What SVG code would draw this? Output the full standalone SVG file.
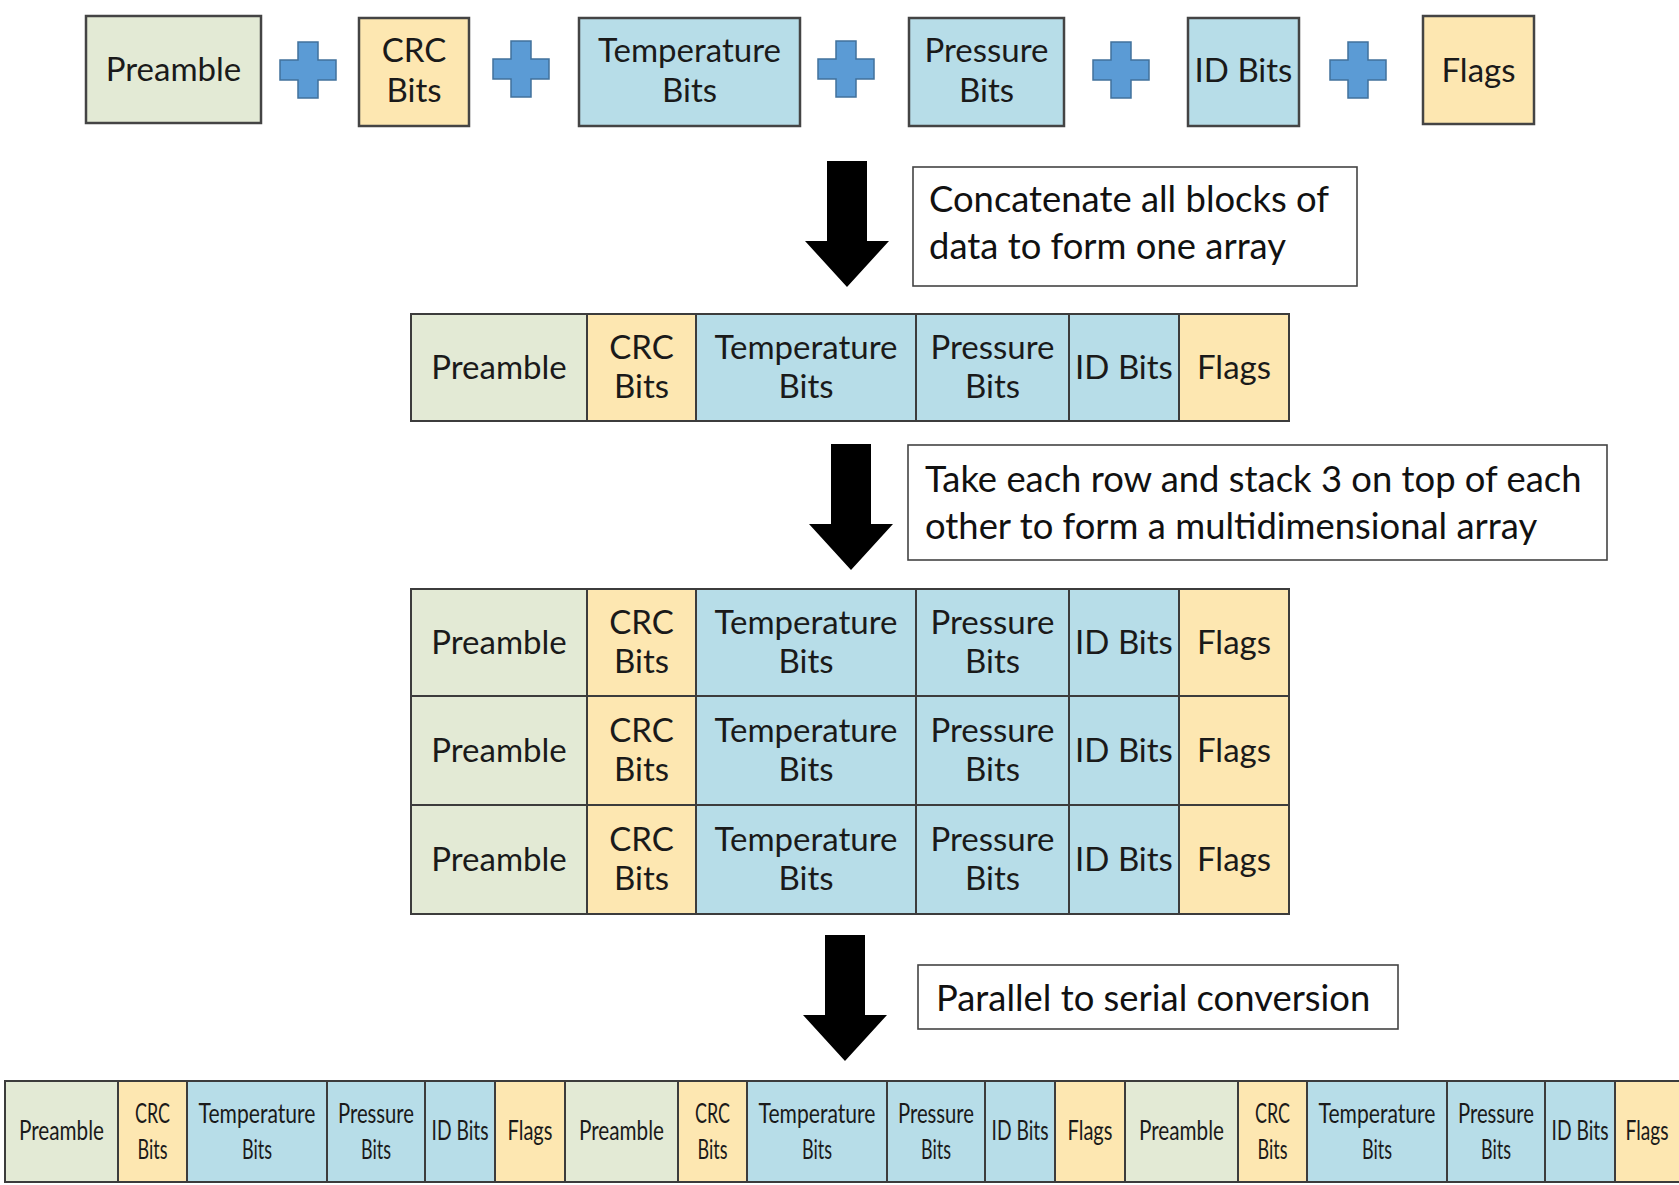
<svg xmlns="http://www.w3.org/2000/svg" width="1679" height="1185" viewBox="0 0 1679 1185">
<defs>
<style>
.pre{fill:#E3EAD5}
.yel{fill:#FDE7B1}
.blu{fill:#B7DDE8}
.cell{stroke:#3C3C3C;stroke-width:2}
.top{stroke:#444;stroke-width:2.5}
text{font-family:Lato,"Liberation Sans",sans-serif;fill:#1a1a1a}
.t{font-size:33px;text-anchor:middle}
.s{font-size:26px;text-anchor:middle}
.note{font-size:36.4px;fill:#111}
.nbox{fill:#fff;stroke:#444;stroke-width:1.6}
.plus{fill:#5B9BD5;stroke:#41719C;stroke-width:1.5}
</style>
<path id="arr" d="M-20,0 H20 V80 H42 L0,126 L-42,80 H-20 Z" fill="#000"/>
<path id="plus" d="M-10,-28 H10 V-10 H28 V10 H10 V28 H-10 V10 H-28 V-10 H-10 Z"/>
</defs>
<rect width="1679" height="1185" fill="#fff"/>

<!-- Top row -->
<g id="top-preamble"><rect class="pre top" x="86" y="16" width="175" height="107"/><text class="t" x="173.5" y="81">Preamble</text></g>
<g id="top-crc"><rect class="yel top" x="359" y="18" width="110" height="108"/><text class="t" x="414" y="62">CRC</text><text class="t" x="414" y="102">Bits</text></g>
<g id="top-temp"><rect class="blu top" x="579" y="18" width="221" height="108"/><text class="t" x="689.5" y="62">Temperature</text><text class="t" x="689.5" y="102">Bits</text></g>
<g id="top-press"><rect class="blu top" x="909" y="18" width="155" height="108"/><text class="t" x="986.5" y="62">Pressure</text><text class="t" x="986.5" y="102">Bits</text></g>
<g id="top-id"><rect class="blu top" x="1188" y="18" width="111" height="108"/><text class="t" x="1243.5" y="81.5">ID Bits</text></g>
<g id="top-flags"><rect class="yel top" x="1423" y="16" width="111" height="108"/><text class="t" x="1478.5" y="81.5">Flags</text></g>
<g id="plus-signs">
<use href="#plus" class="plus" x="308" y="70"/>
<use href="#plus" class="plus" x="521" y="69"/>
<use href="#plus" class="plus" x="846" y="69"/>
<use href="#plus" class="plus" x="1121" y="70"/>
<use href="#plus" class="plus" x="1358" y="70"/>
</g>

<!-- Connectors -->
<g id="connectors">
<use href="#arr" x="847" y="161"/>
<use href="#arr" x="851" y="444"/>
<use href="#arr" x="845" y="935"/>
</g>

<!-- Notes -->
<g id="note-1"><rect class="nbox" x="913" y="167" width="444" height="119"/><text class="note" x="929" y="212">Concatenate all blocks of</text><text class="note" x="929" y="259">data to form one array</text></g>
<g id="note-2"><rect class="nbox" x="908" y="445" width="699" height="115"/><text class="note" x="925" y="492">Take each row and stack 3 on top of each</text><text class="note" x="925" y="539">other to form a multidimensional array</text></g>
<g id="note-3"><rect class="nbox" x="918" y="965" width="480" height="64"/><text class="note" x="936" y="1011">Parallel to serial conversion</text></g>

<!-- Concatenated array -->
<g id="array-1">
<rect class="pre cell" x="411" y="314" width="176" height="107"/><text class="t" x="499" y="379">Preamble</text>
<rect class="yel cell" x="587" y="314" width="109" height="107"/><text class="t" x="641.5" y="359">CRC</text><text class="t" x="641.5" y="398">Bits</text>
<rect class="blu cell" x="696" y="314" width="220" height="107"/><text class="t" x="806" y="359">Temperature</text><text class="t" x="806" y="398">Bits</text>
<rect class="blu cell" x="916" y="314" width="153" height="107"/><text class="t" x="992.5" y="359">Pressure</text><text class="t" x="992.5" y="398">Bits</text>
<rect class="blu cell" x="1069" y="314" width="110" height="107"/><text class="t" x="1124" y="379">ID Bits</text>
<rect class="yel cell" x="1179" y="314" width="110" height="107"/><text class="t" x="1234" y="379">Flags</text>
</g>

<!-- Multidimensional array -->
<g id="grid-row-1">
<rect class="pre cell" x="411" y="589" width="176" height="107"/><text class="t" x="499" y="654">Preamble</text>
<rect class="yel cell" x="587" y="589" width="109" height="107"/><text class="t" x="641.5" y="634">CRC</text><text class="t" x="641.5" y="673">Bits</text>
<rect class="blu cell" x="696" y="589" width="220" height="107"/><text class="t" x="806" y="634">Temperature</text><text class="t" x="806" y="673">Bits</text>
<rect class="blu cell" x="916" y="589" width="153" height="107"/><text class="t" x="992.5" y="634">Pressure</text><text class="t" x="992.5" y="673">Bits</text>
<rect class="blu cell" x="1069" y="589" width="110" height="107"/><text class="t" x="1124" y="654">ID Bits</text>
<rect class="yel cell" x="1179" y="589" width="110" height="107"/><text class="t" x="1234" y="654">Flags</text>
</g>
<g id="grid-row-2">
<rect class="pre cell" x="411" y="696" width="176" height="109"/><text class="t" x="499" y="762">Preamble</text>
<rect class="yel cell" x="587" y="696" width="109" height="109"/><text class="t" x="641.5" y="742">CRC</text><text class="t" x="641.5" y="781">Bits</text>
<rect class="blu cell" x="696" y="696" width="220" height="109"/><text class="t" x="806" y="742">Temperature</text><text class="t" x="806" y="781">Bits</text>
<rect class="blu cell" x="916" y="696" width="153" height="109"/><text class="t" x="992.5" y="742">Pressure</text><text class="t" x="992.5" y="781">Bits</text>
<rect class="blu cell" x="1069" y="696" width="110" height="109"/><text class="t" x="1124" y="762">ID Bits</text>
<rect class="yel cell" x="1179" y="696" width="110" height="109"/><text class="t" x="1234" y="762">Flags</text>
</g>
<g id="grid-row-3">
<rect class="pre cell" x="411" y="805" width="176" height="109"/><text class="t" x="499" y="871">Preamble</text>
<rect class="yel cell" x="587" y="805" width="109" height="109"/><text class="t" x="641.5" y="851">CRC</text><text class="t" x="641.5" y="890">Bits</text>
<rect class="blu cell" x="696" y="805" width="220" height="109"/><text class="t" x="806" y="851">Temperature</text><text class="t" x="806" y="890">Bits</text>
<rect class="blu cell" x="916" y="805" width="153" height="109"/><text class="t" x="992.5" y="851">Pressure</text><text class="t" x="992.5" y="890">Bits</text>
<rect class="blu cell" x="1069" y="805" width="110" height="109"/><text class="t" x="1124" y="871">ID Bits</text>
<rect class="yel cell" x="1179" y="805" width="110" height="109"/><text class="t" x="1234" y="871">Flags</text>
</g>

<!-- Serial stream -->
<g id="serial-1">
<rect class="pre cell" x="5" y="1081" width="113" height="101"/><text class="s" x="61.5" y="1140" textLength="85" lengthAdjust="spacingAndGlyphs">Preamble</text>
<rect class="yel cell" x="118" y="1081" width="69" height="101"/><text class="s" x="152.5" y="1123" textLength="35" lengthAdjust="spacingAndGlyphs">CRC</text><text class="s" x="152.5" y="1159" textLength="30" lengthAdjust="spacingAndGlyphs">Bits</text>
<rect class="blu cell" x="187" y="1081" width="140" height="101"/><text class="s" x="257" y="1123" textLength="117" lengthAdjust="spacingAndGlyphs">Temperature</text><text class="s" x="257" y="1159" textLength="30" lengthAdjust="spacingAndGlyphs">Bits</text>
<rect class="blu cell" x="327" y="1081" width="98" height="101"/><text class="s" x="376" y="1123" textLength="76" lengthAdjust="spacingAndGlyphs">Pressure</text><text class="s" x="376" y="1159" textLength="30" lengthAdjust="spacingAndGlyphs">Bits</text>
<rect class="blu cell" x="425" y="1081" width="70" height="101"/><text class="s" x="460" y="1140" textLength="57" lengthAdjust="spacingAndGlyphs">ID Bits</text>
<rect class="yel cell" x="495" y="1081" width="70" height="101"/><text class="s" x="530" y="1140" textLength="45" lengthAdjust="spacingAndGlyphs">Flags</text>
</g>
<g id="serial-2">
<rect class="pre cell" x="565" y="1081" width="113" height="101"/><text class="s" x="621.5" y="1140" textLength="85" lengthAdjust="spacingAndGlyphs">Preamble</text>
<rect class="yel cell" x="678" y="1081" width="69" height="101"/><text class="s" x="712.5" y="1123" textLength="35" lengthAdjust="spacingAndGlyphs">CRC</text><text class="s" x="712.5" y="1159" textLength="30" lengthAdjust="spacingAndGlyphs">Bits</text>
<rect class="blu cell" x="747" y="1081" width="140" height="101"/><text class="s" x="817" y="1123" textLength="117" lengthAdjust="spacingAndGlyphs">Temperature</text><text class="s" x="817" y="1159" textLength="30" lengthAdjust="spacingAndGlyphs">Bits</text>
<rect class="blu cell" x="887" y="1081" width="98" height="101"/><text class="s" x="936" y="1123" textLength="76" lengthAdjust="spacingAndGlyphs">Pressure</text><text class="s" x="936" y="1159" textLength="30" lengthAdjust="spacingAndGlyphs">Bits</text>
<rect class="blu cell" x="985" y="1081" width="70" height="101"/><text class="s" x="1020" y="1140" textLength="57" lengthAdjust="spacingAndGlyphs">ID Bits</text>
<rect class="yel cell" x="1055" y="1081" width="70" height="101"/><text class="s" x="1090" y="1140" textLength="45" lengthAdjust="spacingAndGlyphs">Flags</text>
</g>
<g id="serial-3">
<rect class="pre cell" x="1125" y="1081" width="113" height="101"/><text class="s" x="1181.5" y="1140" textLength="85" lengthAdjust="spacingAndGlyphs">Preamble</text>
<rect class="yel cell" x="1238" y="1081" width="69" height="101"/><text class="s" x="1272.5" y="1123" textLength="35" lengthAdjust="spacingAndGlyphs">CRC</text><text class="s" x="1272.5" y="1159" textLength="30" lengthAdjust="spacingAndGlyphs">Bits</text>
<rect class="blu cell" x="1307" y="1081" width="140" height="101"/><text class="s" x="1377" y="1123" textLength="117" lengthAdjust="spacingAndGlyphs">Temperature</text><text class="s" x="1377" y="1159" textLength="30" lengthAdjust="spacingAndGlyphs">Bits</text>
<rect class="blu cell" x="1447" y="1081" width="98" height="101"/><text class="s" x="1496" y="1123" textLength="76" lengthAdjust="spacingAndGlyphs">Pressure</text><text class="s" x="1496" y="1159" textLength="30" lengthAdjust="spacingAndGlyphs">Bits</text>
<rect class="blu cell" x="1545" y="1081" width="70" height="101"/><text class="s" x="1580" y="1140" textLength="57" lengthAdjust="spacingAndGlyphs">ID Bits</text>
<rect class="yel cell" x="1615" y="1081" width="70" height="101"/><text class="s" x="1647" y="1140" textLength="43" lengthAdjust="spacingAndGlyphs">Flags</text>
</g>
</svg>
